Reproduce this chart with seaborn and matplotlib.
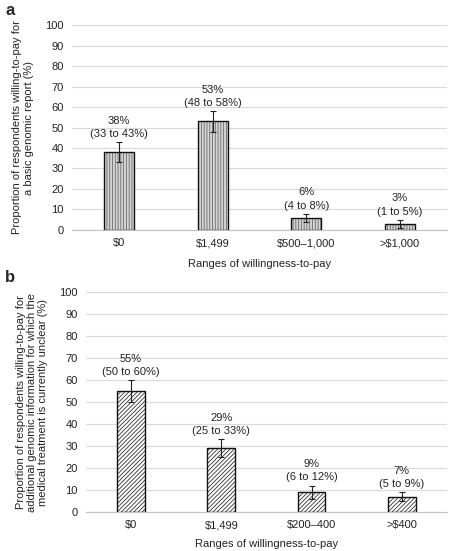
import numpy as np
import pandas as pd
import seaborn as sns
import matplotlib.pyplot as plt

# panel a: basic genomic report
cats_a = ["$0", "$1,499", "$500–1,000", ">$1,000"]
vals_a = [38, 53, 6, 3]
low_a = [33, 48, 4, 1]
high_a = [43, 58, 8, 5]

# panel b: additional genomic information
cats_b = ["$0", "$1,499", "$200–400", ">$400"]
vals_b = [55, 29, 9, 7]
low_b = [50, 25, 6, 5]
high_b = [60, 33, 12, 9]

ylab_a = "Proportion of respondents willing-to-pay for\na basic genomic report (%)"
ylab_b = ("Proportion of respondents willing-to-pay for\n"
          "additional genomic information for which the\n"
          "medical treatment is currently unclear (%)")
xlab = "Ranges of willingness-to-pay"

sns.set_style("white")
plt.rcParams['font.family'] = ['Liberation Sans', 'DejaVu Sans']
plt.rcParams['hatch.linewidth'] = 0.6

fig = plt.figure(figsize=(4.5, 5.51), dpi=100)
ax_a = fig.add_axes([0.16, 0.5826, 0.833, 0.372])
ax_b = fig.add_axes([0.191, 0.0708, 0.802, 0.399])


def panel(ax, cats, vals, low, high, ylab, hatch, face, hcol, width, ysp, xpad):
    df = pd.DataFrame({"cat": cats, "val": vals})
    sns.barplot(data=df, x="cat", y="val", ax=ax, color=face, width=width,
                edgecolor=hcol, linewidth=0, hatch=hatch, zorder=3)
    sns.barplot(data=df, x="cat", y="val", ax=ax, fill=False, width=width,
                edgecolor="#111111", linewidth=1.0, zorder=4)
    xs = np.arange(len(cats))
    v = np.array(vals)
    ax.errorbar(xs, v, yerr=[v - np.array(low), np.array(high) - v], fmt="none",
                ecolor="#222222", elinewidth=0.8, capsize=2, capthick=0.8, zorder=5)
    for x, val, lo, hi in zip(xs, vals, low, high):
        ax.text(x, hi + 1.5, f"{val}%\n({lo} to {hi}%)", ha="center", va="bottom",
                fontsize=8, color="#222222", linespacing=1.4, zorder=6)
    ax.set_ylim(0, 100)
    ax.set_xlim(-0.5, 3.5)
    ax.set_yticks(range(0, 101, 10))
    ax.yaxis.grid(True, color="#d9d9d9", linewidth=0.8, zorder=0)
    ax.set_axisbelow(True)
    for s in ["top", "right", "left"]:
        ax.spines[s].set_visible(False)
    ax.spines["bottom"].set_color("#c0c0c0")
    ax.spines["bottom"].set_linewidth(0.8)
    ax.tick_params(axis="both", length=0, labelsize=8, colors="#222222", pad=6)
    ax.set_xlabel(xlab, fontsize=8, color="#222222", labelpad=xpad)
    ax.set_ylabel(ylab, fontsize=8, color="#222222", labelpad=8, linespacing=ysp)


panel(ax_a, cats_a, vals_a, low_a, high_a, ylab_a, "||||||", "#d4d4d4", "#6a6a6a", 0.32, 1.3, 8)
panel(ax_b, cats_b, vals_b, low_b, high_b, ylab_b, "////////", "#ffffff", "#333333", 0.31, 1.15, 6)

fig.text(0.012, 0.995, "a", fontsize=12, fontweight="bold", va="top", ha="left")
fig.text(0.012, 0.51, "b", fontsize=12, fontweight="bold", va="top", ha="left")

fig.savefig("out.png", dpi=100)
